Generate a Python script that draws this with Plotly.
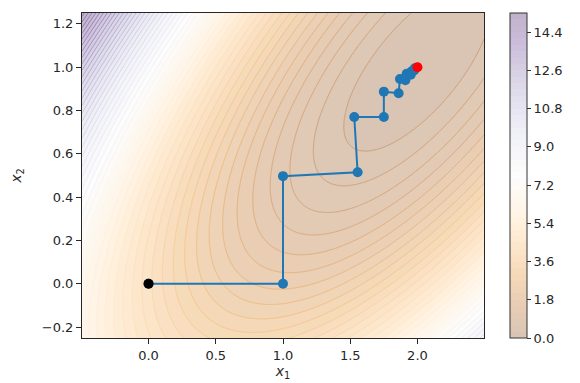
import numpy as np
import plotly.graph_objects as go

# quadratic objective f(x) = a*(x1-2)^2 + b*(x2-1)^2 + c*(x1-2)*(x2-1)
coef_a, coef_b, coef_c = 2.0, 4.0, -4.0
x_opt = [2.0, 1.0]

# coordinate-descent path
path_x1 = [0.0, 1.0, 1.0, 1.555, 1.53, 1.75, 1.75, 1.86, 1.87, 1.91, 1.92, 1.95, 1.955, 1.975, 1.98]
path_x2 = [0.0, 0.0, 0.497, 0.515, 0.77, 0.77, 0.887, 0.88, 0.945, 0.94, 0.97, 0.965, 0.98, 0.985, 0.995]

cbar_ticks = [0.0, 1.8, 3.6, 5.4, 7.2, 9.0, 10.8, 12.6, 14.4]
x1_ticks = [0.0, 0.5, 1.0, 1.5, 2.0]
x2_ticks = [-0.2, 0.0, 0.2, 0.4, 0.6, 0.8, 1.0, 1.2]

xr = [-0.495, 2.495]
yr = [-0.25, 1.25]
gx = np.linspace(xr[0], xr[1], 220)
gy = np.linspace(yr[0], yr[1], 220)
X, Y = np.meshgrid(gx, gy)
U, V = X - x_opt[0], Y - x_opt[1]
Z = coef_a * U**2 + coef_b * V**2 + coef_c * U * V

puor = [(127, 59, 8), (179, 88, 6), (224, 130, 20), (253, 184, 99), (254, 224, 182),
        (247, 247, 247), (216, 218, 235), (178, 171, 210), (128, 115, 172),
        (84, 39, 136), (45, 0, 75)]


def puor_at(t):
    t = min(max(t, 0.0), 1.0) * (len(puor) - 1)
    i = min(int(t), len(puor) - 2)
    f = t - i
    return [puor[i][k] * (1 - f) + puor[i + 1][k] * f for k in range(3)]


def blend(alpha, shift=0.0, n=41):
    out = []
    for j in range(n):
        p = j / (n - 1)
        r, g, b = [round(255 - alpha * (255 - v)) for v in puor_at(p + shift)]
        out.append([p, f"rgb({r},{g},{b})"])
    return out


zmax = 15.3
step = 0.3

fig = go.Figure()
fig.add_trace(go.Contour(
    x=gx, y=gy, z=Z, zmin=0, zmax=zmax, zauto=False,
    colorscale=blend(0.3),
    contours=dict(start=0, end=zmax, size=step, coloring="fill", showlines=False),
    line=dict(width=0, smoothing=0),
    colorbar=dict(
        x=(510 - 82) / 402, xanchor="left", y=0.5, yanchor="middle",
        thickness=17, thicknessmode="pixels", len=1.0, lenmode="fraction",
        xpad=0, ypad=0,
        outlinewidth=1, outlinecolor="#333333",
        ticks="outside", ticklen=4, tickcolor="#333333",
        tickvals=cbar_ticks, ticktext=[f"{t:.1f}" for t in cbar_ticks],
        tickfont=dict(family="DejaVu Sans", size=13, color="#262626"),
    ),
    hoverinfo="skip",
))
fig.add_trace(go.Contour(
    x=gx, y=gy, z=Z, zmin=0, zmax=zmax, zauto=False,
    colorscale=blend(0.55, shift=0.06), showscale=False,
    contours=dict(start=step, end=zmax, size=step, coloring="lines"),
    line=dict(width=1, smoothing=0),
    hoverinfo="skip",
))
fig.add_trace(go.Scatter(
    x=path_x1, y=path_x2, mode="lines+markers",
    line=dict(color="#1f77b4", width=2),
    marker=dict(color="#1f77b4", size=10),
    showlegend=False,
))
fig.add_trace(go.Scatter(x=[path_x1[0]], y=[path_x2[0]], mode="markers",
                         marker=dict(color="black", size=10), showlegend=False))
fig.add_trace(go.Scatter(x=[x_opt[0]], y=[x_opt[1]], mode="markers",
                         marker=dict(color="red", size=10), showlegend=False))

axis_common = dict(
    showgrid=False, zeroline=False, showline=True, mirror=True,
    linecolor="#262626", linewidth=1, ticks="outside", ticklen=5,
    tickcolor="#262626", tickfont=dict(family="DejaVu Sans", size=13, color="#262626"),
)
fig.update_xaxes(range=xr, tickvals=x1_ticks, ticktext=[f"{t:.1f}" for t in x1_ticks],
                 title=dict(text="<i>x</i><sub>1</sub>", standoff=4,
                            font=dict(family="DejaVu Sans", size=14, color="#262626")),
                 **axis_common)
fig.update_yaxes(range=yr, tickvals=x2_ticks,
                 ticktext=[f"{t:.1f}".replace("-", "\u2212") for t in x2_ticks],
                 title=dict(text="<i>x</i><sub>2</sub>", standoff=16,
                            font=dict(family="DejaVu Sans", size=14, color="#262626")),
                 **axis_common)
fig.update_layout(
    width=580, height=383,
    margin=dict(l=82, r=96, t=13, b=45, autoexpand=False),
    paper_bgcolor="white", plot_bgcolor="white",
    showlegend=False,
)
fig.write_html("out.html", config={"displayModeBar": False},
               post_script="document.body.style.margin='0px';document.body.style.padding='0px';")
